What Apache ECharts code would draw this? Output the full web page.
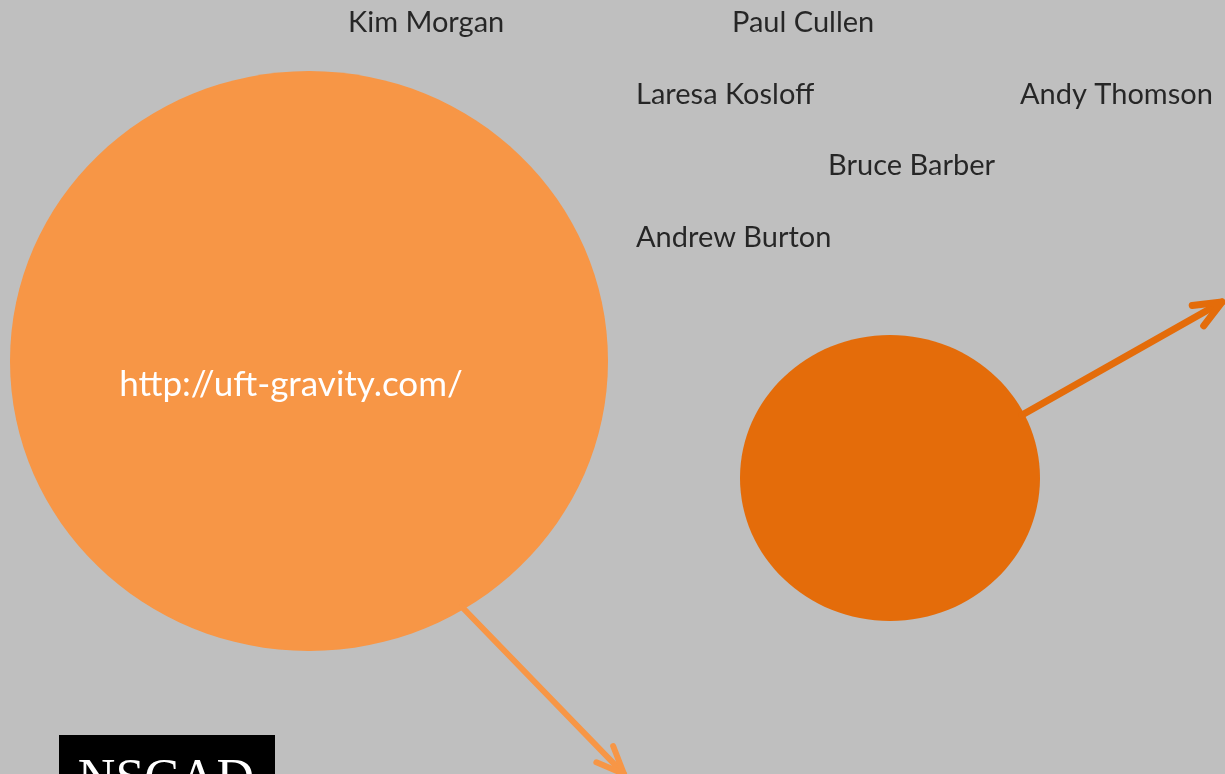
<!DOCTYPE html>
<html>
<head>
<meta charset="utf-8">
<title>uft-gravity</title>
<style>
  html, body { margin: 0; padding: 0; background: #bfbfbf; }
  #main { width: 1225px; height: 774px; }
</style>
</head>
<body>
<div id="main"></div>
<script src="https://cdn.jsdelivr.net/npm/echarts@6/dist/echarts.min.js"></script>
<script type="text/javascript">
    // names around the slide: [x, y, label]
    var names = [
      [348, 23, 'Kim Morgan'],
      [732, 23, 'Paul Cullen'],
      [636, 95, 'Laresa Kosloff'],
      [1020, 95, 'Andy Thomson'],
      [828, 166, 'Bruce Barber'],
      [636, 238, 'Andrew Burton']
    ];

    // circles: [cx, cy, rx, ry, colour, label]
    var circles = [
      [309, 361, 299, 290, '#f79646', 'http://uft-gravity.com/'],
      [890, 478, 150, 143, '#e46c0a', '']
    ];

    // arrows: [x1, y1, x2, y2, colour, width]
    var arrows = [
      [462, 607, 624, 774, '#f79646', 6],
      [1022, 415, 1222, 302, '#e46c0a', 7]
    ];

    // logo box: [x, y, w, h, text]
    var logo = [[59, 735, 216, 60, 'NSCAD']];

    var chart = echarts.init(document.getElementById('main'));

    var font = 'Lato, "Open Sans", sans-serif';

    var option = {
      backgroundColor: '#bfbfbf',
      animation: false,
      grid: { left: 0, right: 0, top: 0, bottom: 0 },
      xAxis: { type: 'value', min: 0, max: 1225, show: false },
      yAxis: { type: 'value', min: 0, max: 774, inverse: true, show: false },
      series: [
        {
          // the two circles
          type: 'custom',
          data: circles,
          renderItem: function (params, api) {
            var c = circles[params.dataIndex];
            var p = api.coord([c[0], c[1]]);
            var s = api.size([c[2], c[3]]);
            return {
              type: 'ellipse',
              shape: { cx: p[0], cy: p[1], rx: s[0], ry: s[1] },
              style: { fill: c[4] },
              textContent: {
                style: {
                  text: c[5],
                  fill: '#ffffff',
                  font: '35px ' + font
                }
              },
              textConfig: { position: 'inside', offset: [-18, 24] }
            };
          }
        },
        {
          // arrows with an open head
          type: 'custom',
          data: arrows,
          renderItem: function (params, api) {
            var a = arrows[params.dataIndex];
            var p1 = api.coord([a[0], a[1]]);
            var p2 = api.coord([a[2], a[3]]);
            var ang = Math.atan2(p2[1] - p1[1], p2[0] - p1[0]);
            var len = 30, spread = 0.4;
            var h1 = [p2[0] - len * Math.cos(ang - spread), p2[1] - len * Math.sin(ang - spread)];
            var h2 = [p2[0] - len * Math.cos(ang + spread), p2[1] - len * Math.sin(ang + spread)];
            var st = { stroke: a[4], lineWidth: a[5], lineCap: 'round', lineJoin: 'round', fill: null };
            return {
              type: 'group',
              children: [
                { type: 'line', shape: { x1: p1[0], y1: p1[1], x2: p2[0], y2: p2[1] }, style: st },
                { type: 'polyline', shape: { points: [h1, p2, h2] }, style: st }
              ]
            };
          }
        },
        {
          // logo box at the bottom
          type: 'custom',
          data: logo,
          renderItem: function (params, api) {
            var l = logo[params.dataIndex];
            var p = api.coord([l[0], l[1]]);
            var s = api.size([l[2], l[3]]);
            return {
              type: 'group',
              children: [
                { type: 'rect', shape: { x: p[0], y: p[1], width: s[0], height: s[1] }, style: { fill: '#000000' } },
                {
                  type: 'text',
                  x: p[0] + s[0] / 2 - 1, y: p[1] + 20,
                  style: {
                    text: l[4], fill: '#ffffff',
                    font: '52px "Liberation Serif", "DejaVu Serif", serif',
                    align: 'center', verticalAlign: 'top'
                  }
                }
              ]
            };
          }
        },
        {
          // names
          type: 'scatter',
          data: names,
          symbolSize: 0,
          label: {
            show: true,
            position: 'right',
            distance: 0,
            formatter: function (p) { return p.data[2]; },
            color: '#000000',
            fontSize: 29,
            fontFamily: font
          }
        }
      ]
    };

    chart.setOption(option);
</script>
</body>
</html>
